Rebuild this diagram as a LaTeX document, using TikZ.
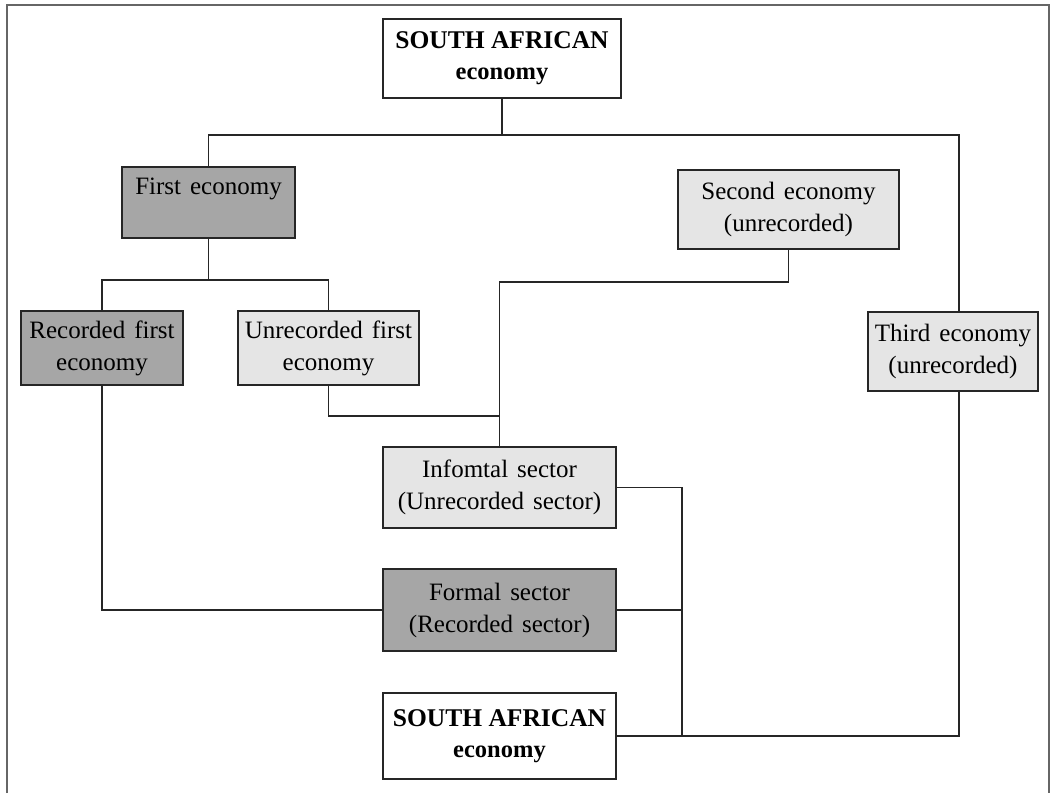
\documentclass[tikz,border=0pt]{standalone}
\usepackage{fontspec}
\setmainfont{Liberation Serif}
\newcommand\mywordsp{\spaceskip=0.36em\relax}
\begin{document}
\begin{tikzpicture}[x=1pt,y=-1pt,
  box/.style={draw=black!85, line width=1.2pt, inner sep=0pt, align=center,
              font=\fontsize{25}{32}\selectfont\mywordsp},
  dark/.style={box, fill=black!35},
  light/.style={box, fill=black!10},
  white/.style={box, fill=white, font=\bfseries\fontsize{24.5}{31}\selectfont},
  wire/.style={line width=1.2pt, draw=black!85}]
\useasboundingbox (0,0) rectangle (1051,793);
\draw[line width=2pt, black!60] (7,793) -- (7,5) -- (1049,5) -- (1049,793);

\node[white, minimum width=238pt, minimum height=79pt] (sa1) at (502,58.5)
  {{\fontsize{25.5}{31}\selectfont SOUTH AFRICAN}\\economy};
\node[dark, minimum width=173pt, minimum height=71pt] (first) at (208.5,202.5)
  {First economy\\\mbox{}};
\node[light, minimum width=221pt, minimum height=79pt] (second) at (788.5,209.5)
  {Second economy\\(unrecorded)};
\node[dark, minimum width=162pt, minimum height=74pt] (rec) at (102,348)
  {Recorded first\\economy};
\node[light, minimum width=181pt, minimum height=74pt] (unrec) at (328.5,348)
  {Unrecorded first\\economy};
\node[light, minimum width=170pt, minimum height=79pt] (third) at (953,351.5)
  {Third economy\\(unrecorded)};
\node[light, minimum width=233pt, minimum height=81pt] (info) at (499.5,487.5)
  {Infomtal sector\\(Unrecorded sector)};
\node[dark, minimum width=233pt, minimum height=82pt] (formal) at (499.5,610)
  {Formal sector\\(Recorded sector)};
\node[white, minimum width=233pt, minimum height=86pt] (sa2) at (499.5,736)
  {{\fontsize{25.5}{31}\selectfont SOUTH AFRICAN}\\economy};

\coordinate (j1) at (502,135);
\coordinate (t3) at (959,135);
\coordinate (j2) at (208.5,280);
\coordinate (j3) at (499.5,282);
\coordinate (j4) at (499.5,416);
\coordinate (j5) at (682,487.5);

\draw[wire] (sa1.south) -- (j1);
\draw[wire] (first.north) |- (t3) -- (third.north -| t3);
\draw[wire] (first.south) -- (j2);
\draw[wire] (rec.north) |- (j2) -| (unrec.north);
\draw[wire] (second.south) |- (j3) -- (info.north);
\draw[wire] (unrec.south) |- (j4);
\draw[wire] (rec.south) |- (formal.west);
\draw[wire] (info.east) -- (j5) |- (sa2.east);
\draw[wire] (formal.east) -- (formal.east -| j5);
\draw[wire] (third.south -| t3) |- (sa2.east);
\end{tikzpicture}
\end{document}
